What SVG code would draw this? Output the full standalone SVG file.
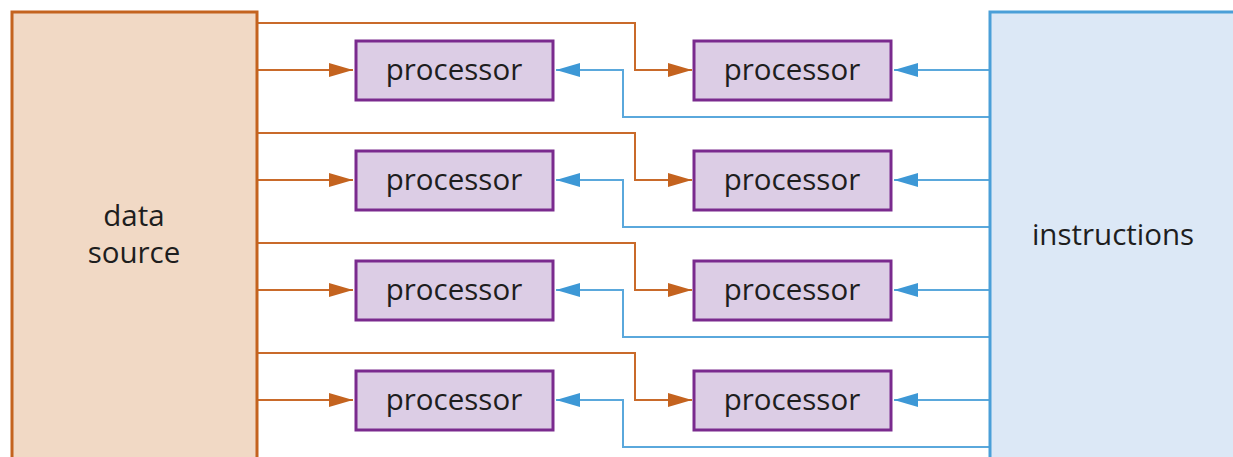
<svg xmlns="http://www.w3.org/2000/svg" width="1233" height="457" viewBox="0 0 1233 457">
<style>
.src{fill:#f1d9c5;stroke:#c4631f;stroke-width:3}
.ins{fill:#dce8f6;stroke:#4a9fd8;stroke-width:3}
.proc{fill:#dccde5;stroke:#7a2a8e;stroke-width:3}
.t{font-family:"Open Sans","Liberation Sans",sans-serif;font-size:29.5px;fill:#1e1e1e;text-anchor:middle}
.o{fill:none;stroke:#c96a2a;stroke-width:2}
.b{fill:none;stroke:#5aa8dc;stroke-width:2}
</style>
<defs>
<marker id="ao" markerUnits="userSpaceOnUse" markerWidth="24" markerHeight="14" refX="24" refY="7" orient="auto"><path d="M0,0 L24,7 L0,14 Z" fill="#c4631f"/></marker>
<marker id="ab" markerUnits="userSpaceOnUse" markerWidth="24" markerHeight="14" refX="24" refY="7" orient="auto"><path d="M0,0 L24,7 L0,14 Z" fill="#3d98d6"/></marker>
</defs>
<rect width="1233" height="457" fill="#fff"/>
<g id="connectors">
<path class="o" d="M257,23 H635 V70 H692" marker-end="url(#ao)"/>
<path class="o" d="M257,70 H353" marker-end="url(#ao)"/>
<path class="b" d="M990,70 H894" marker-end="url(#ab)"/>
<path class="b" d="M990,117 H623 V70 H556" marker-end="url(#ab)"/>
<path class="o" d="M257,133 H635 V180 H692" marker-end="url(#ao)"/>
<path class="o" d="M257,180 H353" marker-end="url(#ao)"/>
<path class="b" d="M990,180 H894" marker-end="url(#ab)"/>
<path class="b" d="M990,227 H623 V180 H556" marker-end="url(#ab)"/>
<path class="o" d="M257,243 H635 V290 H692" marker-end="url(#ao)"/>
<path class="o" d="M257,290 H353" marker-end="url(#ao)"/>
<path class="b" d="M990,290 H894" marker-end="url(#ab)"/>
<path class="b" d="M990,337 H623 V290 H556" marker-end="url(#ab)"/>
<path class="o" d="M257,353 H635 V400 H692" marker-end="url(#ao)"/>
<path class="o" d="M257,400 H353" marker-end="url(#ao)"/>
<path class="b" d="M990,400 H894" marker-end="url(#ab)"/>
<path class="b" d="M990,447 H623 V400 H556" marker-end="url(#ab)"/>
</g>
<g id="data-source"><rect class="src" x="12" y="12" width="245" height="460"/><text class="t" x="134" y="226">data</text><text class="t" x="134" y="263">source</text></g>
<g id="instructions"><rect class="ins" x="990" y="12" width="250" height="460"/><text class="t" x="1113" y="245">instructions</text></g>
<g id="p1a"><rect class="proc" x="356" y="41" width="197" height="59"/><text class="t" x="454" y="80">processor</text></g>
<g id="p1b"><rect class="proc" x="694" y="41" width="197" height="59"/><text class="t" x="792" y="80">processor</text></g>
<g id="p2a"><rect class="proc" x="356" y="151" width="197" height="59"/><text class="t" x="454" y="190">processor</text></g>
<g id="p2b"><rect class="proc" x="694" y="151" width="197" height="59"/><text class="t" x="792" y="190">processor</text></g>
<g id="p3a"><rect class="proc" x="356" y="261" width="197" height="59"/><text class="t" x="454" y="300">processor</text></g>
<g id="p3b"><rect class="proc" x="694" y="261" width="197" height="59"/><text class="t" x="792" y="300">processor</text></g>
<g id="p4a"><rect class="proc" x="356" y="371" width="197" height="59"/><text class="t" x="454" y="410">processor</text></g>
<g id="p4b"><rect class="proc" x="694" y="371" width="197" height="59"/><text class="t" x="792" y="410">processor</text></g>
</svg>
